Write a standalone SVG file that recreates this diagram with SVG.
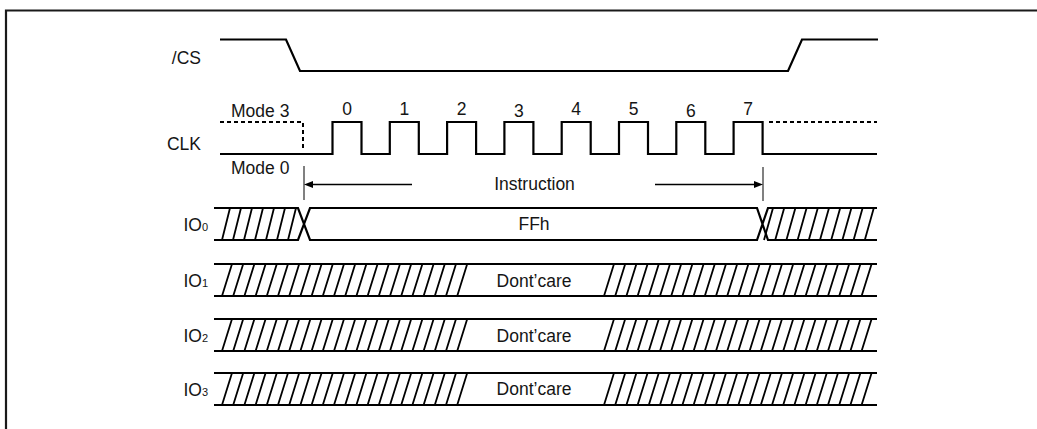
<svg xmlns="http://www.w3.org/2000/svg" width="1037" height="429" viewBox="0 0 1037 429">
<style>
text{font-family:"Liberation Sans",Arial,sans-serif;font-size:17.5px;fill:#151515}
.mid{text-anchor:middle}
.end{text-anchor:end}
.sub{font-size:11px}
.wave{fill:none;stroke:#000;stroke-width:2.2;stroke-linejoin:miter}
.dash{fill:none;stroke:#000;stroke-width:2;stroke-dasharray:4 3}
.hatch{fill:none;stroke:#000;stroke-width:1.8}
.tick{stroke:#808080;stroke-width:2}
.arrow{stroke:#000;stroke-width:1.4;fill:none}
</style>
<defs>
<marker id="ah" viewBox="0 0 9 7" refX="0" refY="3.5" markerWidth="9" markerHeight="7" markerUnits="userSpaceOnUse" orient="auto"><path d="M0,0 L9,3.5 L0,7 Z" fill="#000"/></marker>
</defs>
<rect width="1037" height="429" fill="#fff"/>
<path d="M6,431 V10.5 H1040" fill="none" stroke="#1a1a1a" stroke-width="2.2"/>

<g id="cs">
<text class="end" x="201" y="64">/CS</text>
<path class="wave" d="M220,39.5 H286 L300,71 H788 L802,39.5 H878"/>
</g>

<g id="clk">
<text class="end" x="201" y="150">CLK</text>
<text x="231" y="117">Mode 3</text>
<text x="231" y="174">Mode 0</text>
<path class="dash" d="M220,122 H303 V148"/>
<path class="dash" d="M769,122 H877"/>
<path class="wave" d="M220,154 H332.5 V122 H361.5 V154 H389.8 V122 H418.8 V154 H447.1 V122 H476.1 V154 H504.4 V122 H533.4 V154 H561.7 V122 H590.7 V154 H619 V122 H648 V154 H676.3 V122 H705.3 V154 H733.6 V122 H762.6 V154 H877"/>
<text class="mid" x="347" y="115">0</text>
<text class="mid" x="404.3" y="115">1</text>
<text class="mid" x="461.6" y="115">2</text>
<text class="mid" x="518.9" y="117">3</text>
<text class="mid" x="576.2" y="115">4</text>
<text class="mid" x="633.5" y="115">5</text>
<text class="mid" x="690.8" y="117">6</text>
<text class="mid" x="748.1" y="115">7</text>
</g>

<g id="connectors">
<line class="tick" x1="304" y1="166" x2="304" y2="200"/>
<line class="tick" x1="763" y1="167" x2="763" y2="201"/>
<line class="arrow" x1="412" y1="184.5" x2="313" y2="184.5" marker-end="url(#ah)"/>
<line class="arrow" x1="655" y1="184.5" x2="754" y2="184.5" marker-end="url(#ah)"/>
<text class="mid" x="534.5" y="190">Instruction</text>
</g>

<g id="io0">
<text class="end" x="208" y="231">IO<tspan class="sub">0</tspan></text>
<path class="wave" d="M214,208 H298 L310,240 H757 L768,208 H877 M214,240 H298 L310,208 H757 L768,240 H877"/>
<path class="hatch" d="M222,240 L230,208 M233,240 L241,208 M244,240 L252,208 M255,240 L263,208 M266,240 L274,208 M277,240 L285,208 M288,240 L296,208
M764,240 L773,208 M775.2,240 L784.2,208 M786.4,240 L795.4,208 M797.6,240 L806.6,208 M808.8,240 L817.8,208 M820,240 L829,208 M831.2,240 L840.2,208 M842.4,240 L851.4,208 M853.6,240 L862.6,208 M864.8,240 L873.8,208"/>
<text class="mid" x="534" y="230">FFh</text>
</g>

<g id="io1">
<text class="end" x="208" y="287">IO<tspan class="sub">1</tspan></text>
<path class="wave" d="M214,264 H877 M214,296 H877"/>
<path class="hatch" transform="translate(0,264)" d="M222,32 L232,0 M233.2,32 L243.2,0 M244.4,32 L254.4,0 M255.6,32 L265.6,0 M266.8,32 L276.8,0 M278,32 L288,0 M289.2,32 L299.2,0 M300.4,32 L310.4,0 M311.6,32 L321.6,0 M322.8,32 L332.8,0 M334,32 L344,0 M345.2,32 L355.2,0 M356.4,32 L366.4,0 M367.6,32 L377.6,0 M378.8,32 L388.8,0 M390,32 L400,0 M401.2,32 L411.2,0 M412.4,32 L422.4,0 M423.6,32 L433.6,0 M434.8,32 L444.8,0 M446,32 L456,0 M457.2,32 L467.2,0
M604,32 L614,0 M615.2,32 L625.2,0 M626.4,32 L636.4,0 M637.6,32 L647.6,0 M648.8,32 L658.8,0 M660,32 L670,0 M671.2,32 L681.2,0 M682.4,32 L692.4,0 M693.6,32 L703.6,0 M704.8,32 L714.8,0 M716,32 L726,0 M727.2,32 L737.2,0 M738.4,32 L748.4,0 M749.6,32 L759.6,0 M760.8,32 L770.8,0 M772,32 L782,0 M783.2,32 L793.2,0 M794.4,32 L804.4,0 M805.6,32 L815.6,0 M816.8,32 L826.8,0 M828,32 L838,0 M839.2,32 L849.2,0 M850.4,32 L860.4,0 M861.6,32 L871.6,0"/>
<text class="mid" x="534" y="287">Dont’care</text>
</g>

<g id="io2">
<text class="end" x="208" y="342">IO<tspan class="sub">2</tspan></text>
<path class="wave" d="M214,319 H877 M214,351 H877"/>
<path class="hatch" transform="translate(0,319)" d="M222,32 L232,0 M233.2,32 L243.2,0 M244.4,32 L254.4,0 M255.6,32 L265.6,0 M266.8,32 L276.8,0 M278,32 L288,0 M289.2,32 L299.2,0 M300.4,32 L310.4,0 M311.6,32 L321.6,0 M322.8,32 L332.8,0 M334,32 L344,0 M345.2,32 L355.2,0 M356.4,32 L366.4,0 M367.6,32 L377.6,0 M378.8,32 L388.8,0 M390,32 L400,0 M401.2,32 L411.2,0 M412.4,32 L422.4,0 M423.6,32 L433.6,0 M434.8,32 L444.8,0 M446,32 L456,0 M457.2,32 L467.2,0
M604,32 L614,0 M615.2,32 L625.2,0 M626.4,32 L636.4,0 M637.6,32 L647.6,0 M648.8,32 L658.8,0 M660,32 L670,0 M671.2,32 L681.2,0 M682.4,32 L692.4,0 M693.6,32 L703.6,0 M704.8,32 L714.8,0 M716,32 L726,0 M727.2,32 L737.2,0 M738.4,32 L748.4,0 M749.6,32 L759.6,0 M760.8,32 L770.8,0 M772,32 L782,0 M783.2,32 L793.2,0 M794.4,32 L804.4,0 M805.6,32 L815.6,0 M816.8,32 L826.8,0 M828,32 L838,0 M839.2,32 L849.2,0 M850.4,32 L860.4,0 M861.6,32 L871.6,0"/>
<text class="mid" x="534" y="342">Dont’care</text>
</g>

<g id="io3">
<text class="end" x="208" y="396">IO<tspan class="sub">3</tspan></text>
<path class="wave" d="M214,373 H877 M214,405 H877"/>
<path class="hatch" transform="translate(0,373)" d="M222,32 L232,0 M233.2,32 L243.2,0 M244.4,32 L254.4,0 M255.6,32 L265.6,0 M266.8,32 L276.8,0 M278,32 L288,0 M289.2,32 L299.2,0 M300.4,32 L310.4,0 M311.6,32 L321.6,0 M322.8,32 L332.8,0 M334,32 L344,0 M345.2,32 L355.2,0 M356.4,32 L366.4,0 M367.6,32 L377.6,0 M378.8,32 L388.8,0 M390,32 L400,0 M401.2,32 L411.2,0 M412.4,32 L422.4,0 M423.6,32 L433.6,0 M434.8,32 L444.8,0 M446,32 L456,0 M457.2,32 L467.2,0
M604,32 L614,0 M615.2,32 L625.2,0 M626.4,32 L636.4,0 M637.6,32 L647.6,0 M648.8,32 L658.8,0 M660,32 L670,0 M671.2,32 L681.2,0 M682.4,32 L692.4,0 M693.6,32 L703.6,0 M704.8,32 L714.8,0 M716,32 L726,0 M727.2,32 L737.2,0 M738.4,32 L748.4,0 M749.6,32 L759.6,0 M760.8,32 L770.8,0 M772,32 L782,0 M783.2,32 L793.2,0 M794.4,32 L804.4,0 M805.6,32 L815.6,0 M816.8,32 L826.8,0 M828,32 L838,0 M839.2,32 L849.2,0 M850.4,32 L860.4,0 M861.6,32 L871.6,0"/>
<text class="mid" x="534" y="395">Dont’care</text>
</g>
</svg>
